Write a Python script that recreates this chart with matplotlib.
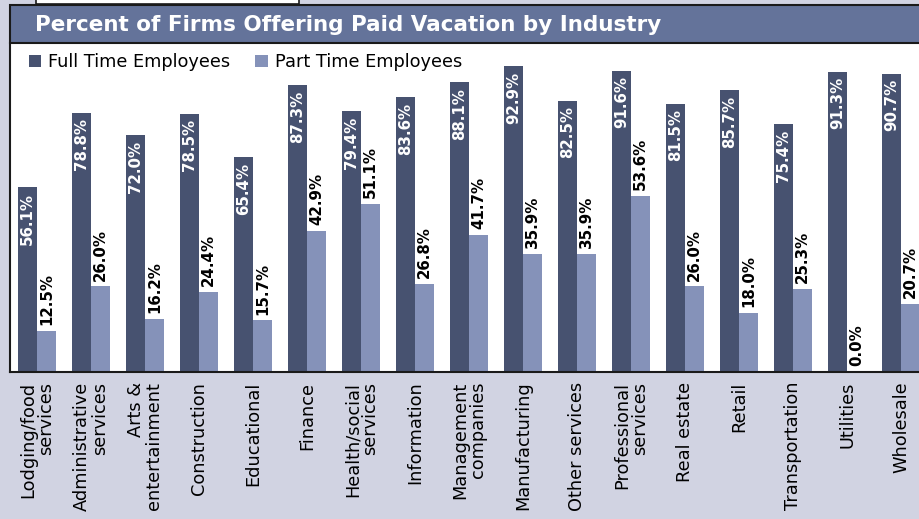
import matplotlib
matplotlib.use("Agg")
import matplotlib.pyplot as plt
from matplotlib.patches import Rectangle, Patch
import numpy as np

industries = [
    "Lodging/food\nservices", "Administrative\nservices", "Arts &\nentertainment",
    "Construction", "Educational", "Finance", "Health/social\nservices",
    "Information", "Management\ncompanies", "Manufacturing", "Other services",
    "Professional\nservices", "Real estate", "Retail", "Transportation",
    "Utilities", "Wholesale",
]
full_time = [56.1, 78.8, 72.0, 78.5, 65.4, 87.3, 79.4, 83.6, 88.1, 92.9,
             82.5, 91.6, 81.5, 85.7, 75.4, 91.3, 90.7]
part_time = [12.5, 26.0, 16.2, 24.4, 15.7, 42.9, 51.1, 26.8, 41.7, 35.9,
             35.9, 53.6, 26.0, 18.0, 25.3, 0.0, 20.7]
series_names = ["Full Time Employees", "Part Time Employees"]
title = "Percent of Firms Offering Paid Vacation by Industry"

BG = "#D1D3E2"
DARK = "#475270"
LIGHT = "#8592B9"
BAR_HEAD = "#64739A"

W, H = 919, 519
fig = plt.figure(figsize=(W / 100, H / 100), dpi=100, facecolor=BG)


def fx(px):
    return px / W


def fy(py):
    return 1 - py / H


# plot panel: 17 groups of 54 px, running a little past the right edge
ax = fig.add_axes([fx(10), fy(372), fx(918), (372 - 43) / H])
ax.set_facecolor("white")

x = np.arange(len(industries))
bw = 0.36
b1 = ax.bar(x - bw / 2, full_time, bw, color=DARK, label=series_names[0], zorder=2)
b2 = ax.bar(x + bw / 2, part_time, bw, color=LIGHT, label=series_names[1], zorder=2)

ax.set_xlim(-0.5, 16.5)
ax.set_ylim(0, 100)
ax.set_yticks([])
ax.set_xticks(x)
ax.set_xticklabels(industries, rotation=90, fontsize=12.8, ha="center", va="top",
                   multialignment="right", color="black", linespacing=0.95)
ax.tick_params(axis="x", length=0, pad=7)
for side in ("top", "right"):
    ax.spines[side].set_visible(False)
ax.spines["left"].set_color("#1a1a1a")
ax.spines["left"].set_linewidth(1.5)
ax.spines["bottom"].set_color("#1a1a1a")
ax.spines["bottom"].set_linewidth(1.5)

for rect, v in zip(b1, full_time):
    ax.annotate(f"{v:.1f}%", (rect.get_x() + rect.get_width() / 2, v),
                xytext=(0, -4), textcoords="offset points", rotation=90,
                ha="center", va="top", color="white", fontsize=10.8,
                fontweight="bold", zorder=3)
for rect, v in zip(b2, part_time):
    ax.annotate(f"{v:.1f}%", (rect.get_x() + rect.get_width() / 2, v),
                xytext=(0, 4), textcoords="offset points", rotation=90,
                ha="center", va="bottom", color="black", fontsize=10.8,
                fontweight="bold", zorder=3, annotation_clip=False)

# header strip
fig.patches.append(Rectangle((fx(36), fy(4)), fx(263), fy(-10) - fy(4),
                             transform=fig.transFigure, facecolor="white",
                             edgecolor="#1a1a1a", linewidth=1.2, zorder=1))
fig.patches.append(Rectangle((fx(10), fy(43)), fx(930), (43 - 5) / H,
                             transform=fig.transFigure, facecolor=BAR_HEAD,
                             edgecolor="#1a1a1a", linewidth=1.5, zorder=2))
fig.text(fx(35), fy(25), title, color="white", fontsize=15.5, fontweight="bold",
         ha="left", va="center", zorder=3)

handles = [Patch(facecolor=DARK, edgecolor="none"),
           Patch(facecolor=LIGHT, edgecolor="none")]
fig.legend(handles, series_names, loc="center left",
           bbox_to_anchor=(fx(27), fy(62)), ncol=2, frameon=False,
           fontsize=12.8, handlelength=0.7, handleheight=0.7,
           handletextpad=0.4, columnspacing=1.4, borderaxespad=0,
           borderpad=0.1)

fig.savefig("out.png", dpi=100, facecolor=BG)
